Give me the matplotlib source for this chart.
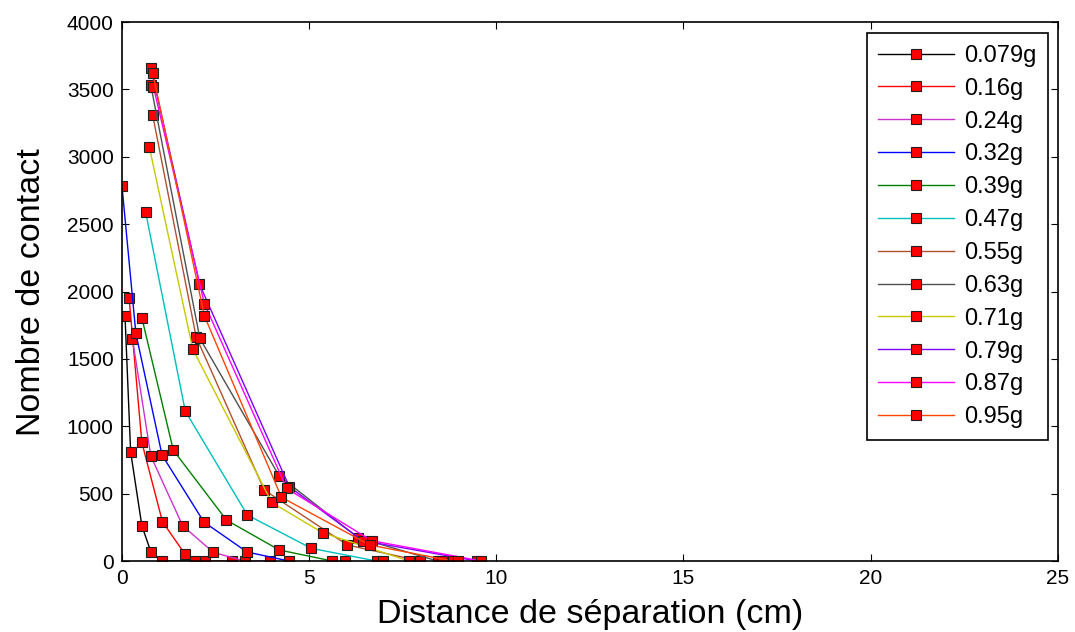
import matplotlib.pyplot as plt

plt.rcParams['font.family'] = ['Liberation Sans', 'DejaVu Sans']

labels = ['0.079g', '0.16g', '0.24g', '0.32g', '0.39g', '0.47g',
          '0.55g', '0.63g', '0.71g', '0.79g', '0.87g', '0.95g']
colors = ['black', '#ff0000', '#cc33cc', '#0000ff', '#008000', '#00bfbf',
          '#b0502d', '#505050', '#c8c800', '#7f00ff', '#ff00ff', '#ff4500']

# distance (cm) and number of contacts for each mass
x_data = [
    [0.08, 0.23, 0.53, 0.77, 1.08, 2.23],
    [0.19, 0.53, 1.08, 1.68, 1.95, 2.95],
    [0.28, 0.77, 1.62, 2.44, 3.28, 3.95],
    [0.0, 0.37, 1.07, 2.19, 3.34, 4.46],
    [0.53, 1.37, 2.79, 4.2, 5.62, 5.97],
    [0.63, 1.69, 3.35, 5.06, 6.8, 6.96],
    [0.82, 1.98, 3.8, 6.02, 7.97],
    [0.77, 2.08, 4.2, 6.31, 8.43, 8.56],
    [0.73, 1.89, 4.0, 5.36, 7.67],
    [0.77, 2.07, 4.47, 6.43, 9.49],
    [0.84, 2.2, 4.4, 6.67, 9.6],
    [0.82, 2.2, 4.26, 6.62, 8.83, 8.98],
]
y_data = [
    [1820, 811, 262, 69, 0, 0],
    [1950, 880, 292, 52, 0, 0],
    [1647, 779, 262, 64, 0, 0],
    [2780, 1690, 786, 289, 67, 0],
    [1805, 823, 304, 82, 0, 0],
    [2591, 1113, 341, 94, 0, 0],
    [3309, 1664, 527, 119, 0],
    [3531, 1652, 631, 173, 0, 0],
    [3073, 1573, 435, 210, 0],
    [3662, 2055, 551, 151, 0],
    [3519, 1911, 539, 151, 0],
    [3623, 1820, 473, 119, 0, 0],
]

fig = plt.figure(figsize=(10.75, 6.32), dpi=100)
ax = fig.add_axes([0.1135, 0.1123, 0.8705, 0.8527])

for xs, ys, c, lab in zip(x_data, y_data, colors, labels):
    ax.plot(xs, ys, '-', color=c, lw=1, marker='s', markersize=6.5,
            markerfacecolor='red', markeredgecolor='#202020', markeredgewidth=0.8,
            label=lab)

ax.set_xlim(0, 25)
ax.set_ylim(0, 4000)
ax.set_xticks([0, 5, 10, 15, 20, 25])
ax.set_yticks(range(0, 4001, 500))
ax.tick_params(direction='in', top=True, right=True, labelsize=15, length=5, pad=6)
for s in ax.spines.values():
    s.set_linewidth(1.2)

ax.set_xlabel('Distance de séparation (cm)', fontsize=24.5, labelpad=8)
ax.set_ylabel('Nombre de contact', fontsize=24.5, labelpad=14)

leg = ax.legend(loc='upper right', fontsize=17, handlelength=3.2, handletextpad=0.42,
                labelspacing=0.46, borderpad=0.5, borderaxespad=0,
                fancybox=False, framealpha=1, edgecolor='black',
                bbox_to_anchor=(0.9749, 0.9478), bbox_transform=fig.transFigure)
leg.get_frame().set_linewidth(1.2)

fig.savefig('out.png', dpi=100)
